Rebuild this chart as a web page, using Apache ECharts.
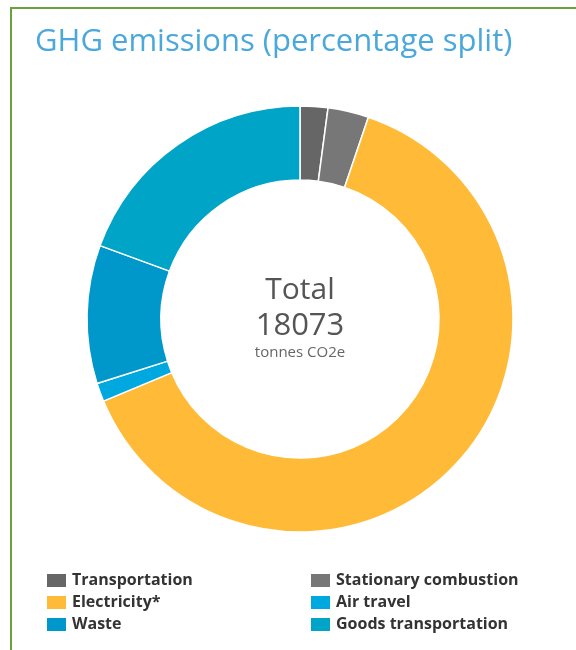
<!DOCTYPE html>
<html>
<head>
<meta charset="utf-8">
<script src="https://cdn.jsdelivr.net/npm/echarts@6/dist/echarts.min.js"></script>
<style>
  html, body { margin: 0; padding: 0; background: #fff; }
  #chart { width: 576px; height: 650px; }
</style>
</head>
<body>
<div id="chart"></div>
<script>
var categories = ['Transportation', 'Stationary combustion', 'Electricity*', 'Air travel', 'Waste', 'Goods transportation'];
var emissions = [380, 560, 11476, 253, 1898, 3506];
var colors = ['#666666', '#777777', '#FFBB38', '#00A8E0', '#0097CA', '#00A4C6'];
var total = 18073;

var chart = echarts.init(document.getElementById('chart'));

var pieData = categories.map(function (name, i) {
    return { name: name, value: emissions[i], itemStyle: { color: colors[i] } };
});

var legendText = {
    fontFamily: 'Open Sans',
    fontWeight: 'bold',
    fontSize: 16,
    lineHeight: 16,
    color: '#333'
};

var option = {
    animation: false,
    title: {
        text: 'GHG emissions (percentage split)',
        left: 30,
        top: 22,
        textStyle: {
            fontFamily: 'Open Sans',
            fontWeight: 'normal',
            fontSize: 31,
            color: '#4AA8DA'
        }
    },
    legend: [
        {
            orient: 'vertical',
            left: 45,
            top: 572,
            padding: 0,
            itemWidth: 21,
            itemHeight: 15,
            itemGap: 5,
            icon: 'rect',
            textStyle: legendText,
            data: [categories[0], categories[2], categories[4]]
        },
        {
            orient: 'vertical',
            left: 309,
            top: 572,
            padding: 0,
            itemWidth: 21,
            itemHeight: 15,
            itemGap: 5,
            icon: 'rect',
            textStyle: legendText,
            data: [categories[1], categories[3], categories[5]]
        }
    ],
    graphic: [
        {
            type: 'rect',
            silent: true,
            shape: { x: 11, y: 8, width: 600, height: 700 },
            style: { fill: 'none', stroke: '#6AA23C', lineWidth: 2 }
        },
        {
            type: 'text',
            x: 300, y: 290,
            style: { text: 'Total', fontFamily: 'Open Sans', fontSize: 30, fill: '#555', align: 'center', verticalAlign: 'middle' }
        },
        {
            type: 'text',
            x: 300, y: 326,
            style: { text: String(total), fontFamily: 'Open Sans', fontSize: 31, fill: '#555', align: 'center', verticalAlign: 'middle' }
        },
        {
            type: 'text',
            x: 300, y: 353,
            style: { text: 'tonnes CO2e', fontFamily: 'Open Sans', fontSize: 15, fill: '#666', align: 'center', verticalAlign: 'middle' }
        }
    ],
    series: [
        {
            type: 'pie',
            center: [300, 319],
            radius: [139, 213],
            startAngle: 90,
            clockwise: true,
            avoidLabelOverlap: false,
            label: { show: false },
            labelLine: { show: false },
            itemStyle: { borderColor: '#fff', borderWidth: 1.5 },
            data: pieData
        }
    ]
};

chart.setOption(option);
</script>
</body>
</html>
